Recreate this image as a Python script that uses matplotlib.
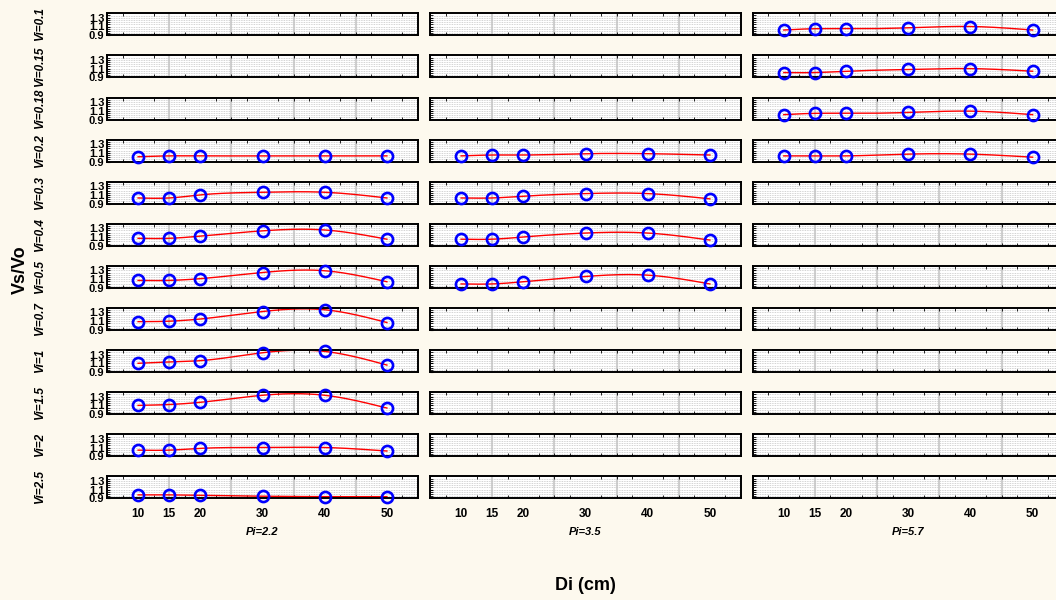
import numpy as np
import matplotlib.pyplot as plt

plt.rcParams['font.family'] = ['Liberation Sans', 'DejaVu Sans']

# data
Di = [10, 15, 20, 30, 40, 50]
vi_rows = ['0.1', '0.15', '0.18', '0.2', '0.3', '0.4', '0.5', '0.7', '1', '1.5', '2', '2.5']
pi_cols = ['2.2', '3.5', '5.7']

# Pi=2.2 : rows Vi=0.2 .. 2.5
p22_vi = ['0.2', '0.3', '0.4', '0.5', '0.7', '1', '1.5', '2', '2.5']
p22_vs = [
    [1.01, 1.03, 1.03, 1.03, 1.03, 1.03],
    [1.03, 1.03, 1.10, 1.16, 1.16, 1.03],
    [1.07, 1.07, 1.12, 1.24, 1.26, 1.05],
    [1.07, 1.07, 1.11, 1.25, 1.29, 1.04],
    [1.09, 1.10, 1.15, 1.32, 1.36, 1.07],
    [1.10, 1.13, 1.16, 1.34, 1.37, 1.06],
    [1.10, 1.12, 1.17, 1.33, 1.33, 1.04],
    [1.04, 1.04, 1.08, 1.10, 1.10, 1.02],
    [0.98, 0.98, 0.97, 0.95, 0.94, 0.94],
]
# Pi=3.5 : rows Vi=0.2 .. 0.5
p35_vi = ['0.2', '0.3', '0.4', '0.5']
p35_vs = [
    [1.03, 1.05, 1.05, 1.08, 1.08, 1.05],
    [1.03, 1.03, 1.07, 1.13, 1.13, 1.01],
    [1.05, 1.05, 1.10, 1.19, 1.19, 1.03],
    [0.99, 0.99, 1.04, 1.16, 1.19, 0.99],
]
# Pi=5.7 : rows Vi=0.1 .. 0.2
p57_vi = ['0.1', '0.15', '0.18', '0.2']
p57_vs = [
    [1.02, 1.05, 1.05, 1.07, 1.10, 1.02],
    [1.01, 1.01, 1.04, 1.08, 1.10, 1.04],
    [1.01, 1.04, 1.04, 1.06, 1.09, 1.01],
    [1.03, 1.03, 1.03, 1.07, 1.07, 1.00],
]
col_data = [(p22_vi, p22_vs), (p35_vi, p35_vs), (p57_vi, p57_vs)]


def natural_spline(x, y, n=200):
    x = np.asarray(x, float)
    y = np.asarray(y, float)
    k = len(x)
    h = np.diff(x)
    A = np.zeros((k, k))
    b = np.zeros(k)
    A[0, 0] = A[-1, -1] = 1
    for i in range(1, k - 1):
        A[i, i - 1] = h[i - 1]
        A[i, i] = 2 * (h[i - 1] + h[i])
        A[i, i + 1] = h[i]
        b[i] = 6 * ((y[i + 1] - y[i]) / h[i] - (y[i] - y[i - 1]) / h[i - 1])
    M = np.linalg.solve(A, b)
    xs = np.linspace(x[0], x[-1], n)
    idx = np.clip(np.searchsorted(x, xs) - 1, 0, k - 2)
    x0, x1, hh = x[idx], x[idx + 1], h[idx]
    ys = (M[idx] * (x1 - xs) ** 3 / (6 * hh) + M[idx + 1] * (xs - x0) ** 3 / (6 * hh)
          + (y[idx] / hh - M[idx] * hh / 6) * (x1 - xs)
          + (y[idx + 1] / hh - M[idx + 1] * hh / 6) * (xs - x0))
    return xs, ys


W, H = 1056, 600
bg = '#fdf9ee'
fig = plt.figure(figsize=(W / 100, H / 100), dpi=100, facecolor=bg)

col_left = [107, 430, 752.7]
ax_w, ax_h = 311, 22
row_top0, row_step = 13.3, 42.1

for c, (vis, vss) in enumerate(col_data):
    for r, vi in enumerate(vi_rows):
        top = row_top0 + r * row_step
        ax = fig.add_axes([col_left[c] / W, 1 - (top + ax_h) / H, ax_w / W, ax_h / H])
        ax.set_facecolor('white')
        ax.set_xlim(5, 55)
        ax.set_ylim(0.9, 1.4)
        for gx in [15, 25, 35, 45]:
            ax.axvline(gx, color='#cfcfcf', lw=1.5, zorder=0)
        for gy in np.arange(0.95, 1.40, 0.05):
            ax.axhline(gy, color='#c4c4c4', lw=0.6, ls=(0, (1, 1)), zorder=0)
        if vi in vis:
            vs = vss[vis.index(vi)]
            xs, ys = natural_spline(Di, vs)
            ax.plot(xs, ys, color='red', lw=1.0, zorder=2)
            ax.plot(Di, vs, 'o', mfc='none', mec='blue', ms=8, mew=1.9, zorder=3, clip_on=False)
        for s in ax.spines.values():
            s.set_linewidth(1.4)
            s.set_color('black')
        ax.set_xticks(Di)
        ax.set_xticks(np.arange(5, 55.1, 2.5), minor=True)
        ax.set_yticks([0.9, 1.1, 1.3])
        ax.set_yticks(np.arange(0.9, 1.41, 0.05), minor=True)
        ax.tick_params(axis='x', which='major', length=0, pad=7)
        ax.tick_params(axis='x', which='minor', direction='in', length=2.5, top=True, bottom=True)
        ax.tick_params(axis='y', which='both', direction='in', length=2.5, left=True, right=False)
        ax.tick_params(axis='y', which='major', pad=2)
        if r == len(vi_rows) - 1:
            ax.set_xticklabels([str(d) for d in Di], fontsize=8.5, fontweight='bold')
        else:
            ax.set_xticklabels([])
        if c == 0:
            ax.set_yticklabels(['0.9', '1.1', '1.3'], fontsize=8, fontweight='bold')
            ax.text(-0.215, 0.5, 'Vi=' + vi, transform=ax.transAxes, rotation=90,
                    ha='center', va='center', fontsize=8.5, fontweight='bold', fontstyle='italic')
        else:
            ax.set_yticklabels([])
    fig.text((col_left[c] + ax_w / 2) / W, 1 - 532 / H, 'Pi=' + pi_cols[c],
             ha='center', va='center', fontsize=8, fontweight='bold', fontstyle='italic')

fig.text(20 / W, 1 - 270 / H, 'Vs/Vo', rotation=90, ha='center', va='center',
         fontsize=13, fontweight='bold')
fig.text(585 / W, 1 - 585 / H, 'Di (cm)', ha='center', va='center',
         fontsize=13, fontweight='bold')

fig.savefig('out.png', dpi=100, facecolor=bg)
